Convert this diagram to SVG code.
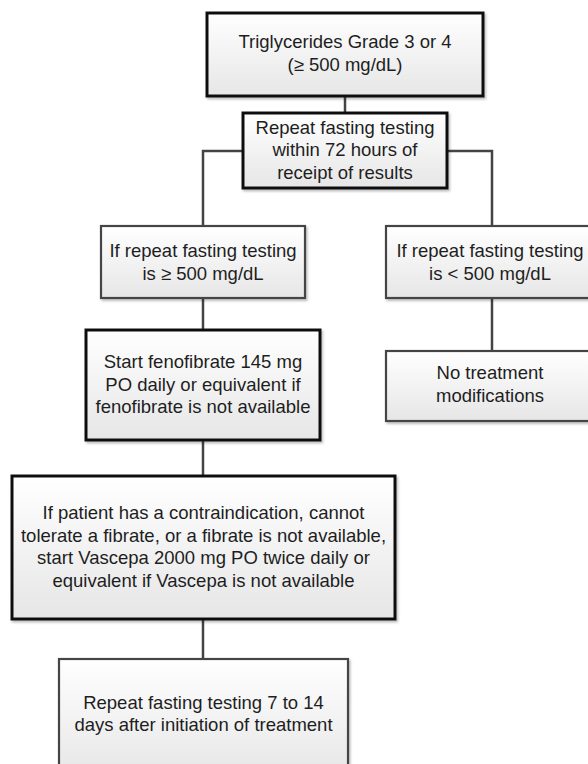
<svg xmlns="http://www.w3.org/2000/svg" width="588" height="764" viewBox="0 0 588 764">
<defs>
<linearGradient id="g" x1="0" y1="0" x2="0" y2="1">
<stop offset="0" stop-color="#ffffff"/>
<stop offset="1" stop-color="#e6e6e6"/>
</linearGradient>
<filter id="sh" x="-5%" y="-5%" width="115%" height="120%">
<feDropShadow dx="1.5" dy="2" stdDeviation="1.2" flood-color="#000" flood-opacity="0.25"/>
</filter>
<style>
.thick{fill:url(#g);stroke:#111;stroke-width:3;filter:url(#sh)}
.thin{fill:url(#g);stroke:#444;stroke-width:2.2;filter:url(#sh)}
.t{font-family:"Liberation Sans",Arial,sans-serif;font-size:18.5px;fill:#1e1e1e;text-anchor:middle}
.c{fill:none;stroke:#444;stroke-width:2.5}
</style>
</defs>
<rect width="588" height="764" fill="#fff"/>
<g id="connectors">
<line class="c" x1="345" y1="96" x2="345" y2="113"/>
<polyline class="c" points="243,151 203,151 203,226"/>
<polyline class="c" points="447,151 492,151 492,226"/>
<line class="c" x1="203" y1="298" x2="203" y2="330"/>
<line class="c" x1="492" y1="298" x2="492" y2="351"/>
<line class="c" x1="203" y1="440" x2="203" y2="476"/>
<line class="c" x1="203" y1="619" x2="203" y2="659"/>
</g>
<g id="n1">
<rect class="thick" x="207" y="13" width="276" height="83"/>
<text class="t" x="345" y="48">Triglycerides Grade 3 or 4</text>
<text class="t" x="345" y="71">(≥ 500 mg/dL)</text>
</g>
<g id="n2">
<rect class="thick" x="243" y="113" width="204" height="75"/>
<text class="t" x="345" y="134">Repeat fasting testing</text>
<text class="t" x="345" y="156">within 72 hours of</text>
<text class="t" x="345" y="179">receipt of results</text>
</g>
<g id="n3">
<rect class="thin" x="101" y="226" width="204" height="72"/>
<text class="t" x="203" y="257">If repeat fasting testing</text>
<text class="t" x="203" y="280">is ≥ 500 mg/dL</text>
</g>
<g id="n4">
<rect class="thin" x="386" y="226" width="212" height="72"/>
<text class="t" x="490" y="257">If repeat fasting testing</text>
<text class="t" x="490" y="280">is &lt; 500 mg/dL</text>
</g>
<g id="n5">
<rect class="thin" x="386" y="351" width="212" height="70"/>
<text class="t" x="490" y="379">No treatment</text>
<text class="t" x="490" y="402">modifications</text>
</g>
<g id="n6">
<rect class="thick" x="86" y="330" width="234" height="110"/>
<text class="t" x="203" y="368">Start fenofibrate 145 mg</text>
<text class="t" x="203" y="391">PO daily or equivalent if</text>
<text class="t" x="203" y="413">fenofibrate is not available</text>
</g>
<g id="n7">
<rect class="thick" x="12" y="476" width="383" height="143"/>
<text class="t" x="203.5" y="519">If patient has a contraindication, cannot</text>
<text class="t" x="203.5" y="542">tolerate a fibrate, or a fibrate is not available,</text>
<text class="t" x="203.5" y="564">start Vascepa 2000 mg PO twice daily or</text>
<text class="t" x="203.5" y="587">equivalent if Vascepa is not available</text>
</g>
<g id="n8">
<rect class="thin" x="59" y="659" width="289" height="120"/>
<text class="t" x="203.5" y="709">Repeat fasting testing 7 to 14</text>
<text class="t" x="203.5" y="731">days after initiation of treatment</text>
</g>
</svg>
